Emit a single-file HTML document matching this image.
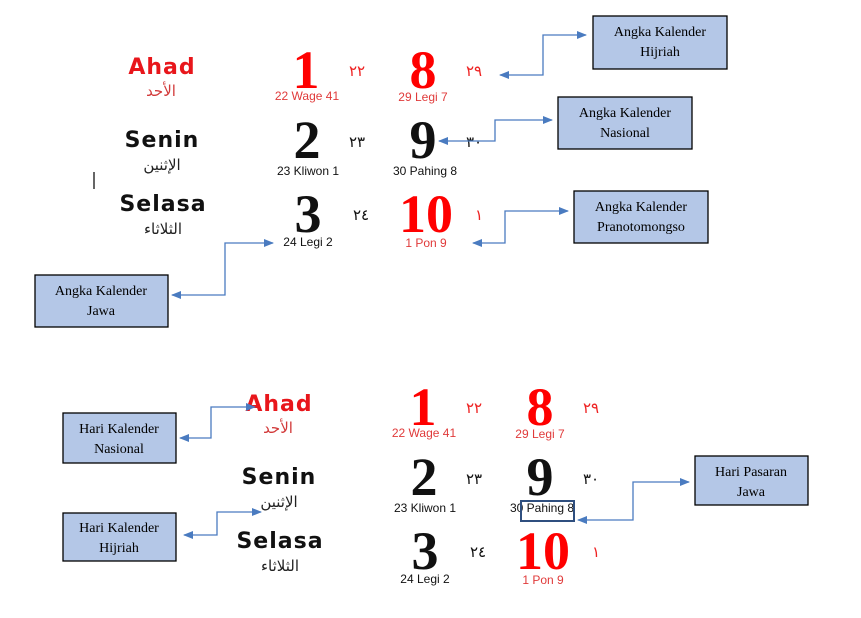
<!DOCTYPE html>
<html><head><meta charset="utf-8"><style>
html,body{margin:0;padding:0;background:#fff;}
svg{display:block;}
.day{font-family:"DejaVu Sans","Liberation Sans",sans-serif;font-weight:bold;font-size:22px;letter-spacing:1px;text-anchor:middle;}
.ar{font-family:"DejaVu Sans",sans-serif;font-size:15px;text-anchor:middle;}
.num{font-family:"Liberation Serif",serif;font-weight:bold;font-size:54px;text-anchor:middle;}
.an{font-family:"DejaVu Sans",sans-serif;font-size:15px;text-anchor:middle;}
.sm{font-family:"Liberation Sans",sans-serif;font-size:12px;text-anchor:middle;}
.lbl{font-family:"Liberation Serif",serif;font-size:14px;text-anchor:middle;fill:#000;}
.box{fill:#b4c7e7;stroke:#000;stroke-width:1.3;}
.ln{fill:none;stroke:#4a7bc0;stroke-width:1.3;}
</style></head><body>
<svg width="861" height="618" viewBox="0 0 861 618" xmlns="http://www.w3.org/2000/svg">
<defs>
<marker id="a" markerWidth="10" markerHeight="8" refX="9" refY="4" orient="auto-start-reverse" markerUnits="userSpaceOnUse">
<path d="M0,0 L10,4 L0,8 z" fill="#4a7bc0"/></marker>
<g id="cal">
<text class="day" x="162" y="74" fill="#e8161b">Ahad</text>
<text class="ar" x="161" y="96" fill="#d23a3a">الأحد</text>
<text class="day" x="162" y="147" fill="#111">Senin</text>
<text class="ar" x="162" y="170" fill="#222">الإثنين</text>
<text class="day" x="163" y="211" fill="#111">Selasa</text>
<text class="ar" x="163" y="234" fill="#222">الثلاثاء</text>

<text class="num" x="306" y="88" fill="#f00">1</text>
<text class="an" x="357" y="76" fill="#e22">٢٢</text>
<text class="sm" x="307" y="100" fill="#e03a3a">22 Wage 41</text>
<text class="num" x="423" y="88" fill="#f00">8</text>
<text class="an" x="474" y="76" fill="#e22">٢٩</text>
<text class="sm" x="423" y="101" fill="#e03a3a">29 Legi 7</text>

<text class="num" x="307" y="158" fill="#111">2</text>
<text class="an" x="357" y="147" fill="#111">٢٣</text>
<text class="sm" x="308" y="175" fill="#111">23 Kliwon 1</text>
<text class="num" x="423" y="158" fill="#111">9</text>
<text class="an" x="474" y="147" fill="#111">٣٠</text>
<text class="sm" x="425" y="175" fill="#111">30 Pahing 8</text>

<text class="num" x="308" y="232" fill="#111">3</text>
<text class="an" x="361" y="220" fill="#111">٢٤</text>
<text class="sm" x="308" y="246" fill="#111">24 Legi 2</text>
<text class="num" x="426" y="232" fill="#f00">10</text>
<text class="an" x="479" y="220" fill="#e22">١</text>
<text class="sm" x="426" y="247" fill="#e03a3a">1 Pon 9</text>
</g>
</defs>

<use href="#cal"/>
<use href="#cal" transform="translate(117,337)"/>

<line x1="94" y1="172" x2="94" y2="189" stroke="#000" stroke-width="1.2"/>

<rect class="box" x="593" y="16" width="134" height="53"/>
<text class="lbl" x="660" y="36">Angka Kalender</text><text class="lbl" x="660" y="56">Hijriah</text>
<polyline class="ln" points="500,75 543,75 543,35 586,35" marker-start="url(#a)" marker-end="url(#a)"/>

<rect class="box" x="558" y="97" width="134" height="52"/>
<text class="lbl" x="625" y="117">Angka Kalender</text><text class="lbl" x="625" y="137">Nasional</text>
<polyline class="ln" points="439,141 495,141 495,120 552,120" marker-start="url(#a)" marker-end="url(#a)"/>

<rect class="box" x="574" y="191" width="134" height="52"/>
<text class="lbl" x="641" y="211">Angka Kalender</text><text class="lbl" x="641" y="231">Pranotomongso</text>
<polyline class="ln" points="473,243 505,243 505,211 568,211" marker-start="url(#a)" marker-end="url(#a)"/>

<rect class="box" x="35" y="275" width="133" height="52"/>
<text class="lbl" x="101" y="295">Angka Kalender</text><text class="lbl" x="101" y="315">Jawa</text>
<polyline class="ln" points="172,295 225,295 225,243 273,243" marker-start="url(#a)" marker-end="url(#a)"/>

<rect class="box" x="63" y="413" width="113" height="50"/>
<text class="lbl" x="119" y="433">Hari Kalender</text><text class="lbl" x="119" y="453">Nasional</text>
<polyline class="ln" points="180,438 211,438 211,407 255,407" marker-start="url(#a)" marker-end="url(#a)"/>

<rect class="box" x="63" y="513" width="113" height="48"/>
<text class="lbl" x="119" y="532">Hari Kalender</text><text class="lbl" x="119" y="552">Hijriah</text>
<polyline class="ln" points="184,535 217,535 217,512 261,512" marker-start="url(#a)" marker-end="url(#a)"/>

<rect class="box" x="695" y="456" width="113" height="49"/>
<text class="lbl" x="751" y="476">Hari Pasaran</text><text class="lbl" x="751" y="496">Jawa</text>
<polyline class="ln" points="578,520 633,520 633,482 689,482" marker-start="url(#a)" marker-end="url(#a)"/>

<rect x="521" y="501" width="53" height="20" fill="none" stroke="#2f4f7f" stroke-width="2"/>
</svg>
</body></html>
